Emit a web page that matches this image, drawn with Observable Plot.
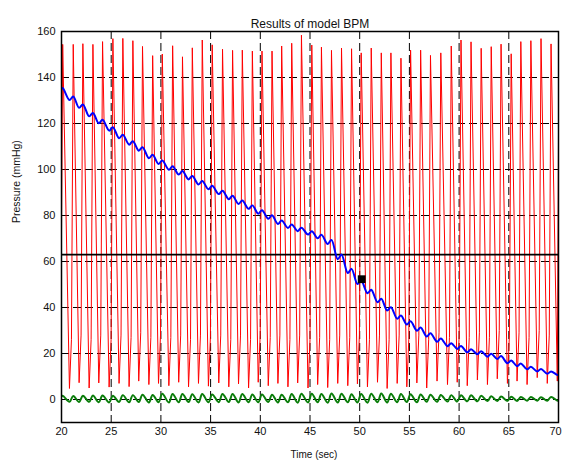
<!DOCTYPE html>
<html>
<head>
<meta charset="utf-8">
<script src="https://cdn.jsdelivr.net/npm/d3@7"></script>
<script src="https://cdn.jsdelivr.net/npm/@observablehq/plot@0.6"></script>
<style>
  body { margin: 0; background: #fff; }
  #chart svg { display: block; }
</style>
</head>
<body>
<div id="chart"></div>
<script>
// Axis ticks
const xTicks = [20, 25, 30, 35, 40, 45, 50, 55, 60, 65, 70];
const yTicks = [0, 20, 40, 60, 80, 100, 120, 140, 160];

// Systolic peaks of the arterial pressure (sec, mmHg)
const beatTimes = [20.12, 21.18, 22.15, 23.16, 24.13, 25.17, 26.17, 27.18, 28.15, 29.17,
  30.14, 31.18, 32.17, 33.16, 34.16, 35.16, 36.20, 37.21, 38.19, 39.20,
  40.17, 41.18, 42.15, 43.16, 44.14, 45.18, 46.15, 47.16, 48.17, 49.18,
  50.15, 51.16, 52.17, 53.14, 54.15, 55.12, 56.13, 57.12, 58.16, 59.21,
  60.19, 61.20, 62.22, 63.23, 64.22, 65.24, 66.21, 67.22, 68.24, 69.25];
const systolic = [154.4, 154.4, 154.7, 154.4, 155.6, 156.9, 157.0, 156.0, 153.5, 149.5,
  150.2, 153.8, 149.0, 152.9, 156.3, 154.2, 152.3, 151.8, 151.9, 151.5,
  151.5, 151.5, 153.7, 154.9, 158.4, 154.1, 153.2, 151.8, 152.8, 152.5,
  150.7, 152.8, 150.7, 150.7, 148.4, 151.9, 151.9, 149.6, 150.7, 153.7,
  156.3, 155.5, 152.7, 153.4, 154.5, 150.3, 155.6, 156.0, 156.9, 154.6];

// Diastolic minima before each following beat, and the knee of the upstroke
const troughTimes = [20.80, 21.77, 22.78, 23.75, 24.79, 25.79, 26.80, 27.77, 28.79,
  29.76, 30.80, 31.79, 32.78, 33.78, 34.78, 35.82, 36.83, 37.81, 38.82,
  39.79, 40.80, 41.77, 42.78, 43.76, 44.80, 45.77, 46.78, 47.79, 48.80,
  49.77, 50.78, 51.79, 52.76, 53.77, 54.74, 55.75, 56.74, 57.78, 58.83,
  59.81, 60.82, 61.84, 62.85, 63.84, 64.86, 65.83, 66.84, 67.86, 68.87];
const diastolic = [4.8, 7.3, 5.0, 7.2, 5.4, 7.0, 5.6, 8.0, 6.5,
  7.0, 6.0, 7.5, 5.5, 7.0, 5.8, 7.2, 5.5, 6.8, 5.0,
  7.5, 6.0, 7.0, 5.5, 7.2, 5.0, 6.5, 5.2, 7.0, 6.0,
  6.8, 5.5, 7.5, 4.8, 7.0, 5.5, 7.2, 5.0, 8.0, 6.5,
  7.5, 6.0, 8.5, 6.5, 9.0, 7.0, 8.0, 6.5, 9.5, 7.0];
const kneeTimes = [21.00, 21.97, 22.98, 23.95, 24.99, 25.99, 27.00, 27.97, 28.99,
  29.96, 31.00, 31.99, 32.98, 33.98, 34.98, 36.02, 37.03, 38.01, 39.02,
  39.99, 41.00, 41.97, 42.98, 43.96, 45.00, 45.97, 46.98, 47.99, 49.00,
  49.97, 50.98, 51.99, 52.96, 53.97, 54.94, 55.95, 56.94, 57.98, 59.03,
  60.01, 61.02, 62.04, 63.05, 64.04, 65.06, 66.03, 67.04, 68.06, 69.07];
const kneeLevels = [26, 28, 26, 28, 26, 28, 27, 29, 27,
  28, 27, 28, 26, 28, 27, 28, 26, 28, 26,
  28, 27, 28, 26, 28, 26, 27, 26, 28, 27,
  28, 26, 28, 26, 28, 26, 28, 26, 29, 27,
  28, 27, 29, 27, 30, 28, 29, 27, 30, 28];
// First and last samples of the pressure trace [sec, mmHg]
const pressureHead = [[20.0, 72]];
const pressureTail = [[69.88, 8.0], [70.0, 115]];

// Mean pressure: local maxima at each beat, minima at each diastole
const meanHigh = [135.4, 131.7, 128.3, 124.6, 121.6, 118.4, 115.1, 112.3, 109.7, 106.4,
  103.9, 101.4, 99.3, 97.2, 95.0, 92.9, 90.8, 88.6, 86.5, 84.4,
  82.3, 80.1, 77.8, 76.1, 74.7, 73.2, 71.6, 69.4, 63.0, 56.8,
  51.7, 47.7, 43.8, 40.1, 36.5, 34.0, 31.3, 28.8, 26.5, 24.5,
  23.3, 21.8, 21.0, 19.9, 18.9, 17.0, 15.7, 14.2, 13.3, 12.2];
const meanLow = [130.2, 126.8, 123.1, 120.1, 116.9, 113.6, 110.8, 108.2, 104.9,
  102.4, 99.9, 97.8, 95.7, 93.5, 91.4, 89.3, 87.1, 85.0, 82.9,
  80.8, 78.6, 76.3, 74.6, 73.2, 71.7, 70.1, 67.6, 61.0, 55.0,
  50.2, 46.2, 42.3, 38.7, 35.1, 32.6, 29.9, 27.4, 25.1, 23.2,
  22.0, 20.5, 19.7, 18.6, 17.6, 15.8, 14.5, 13.1, 12.2, 11.2];
const meanHead = [[20.0, 135.0]];
const meanTail = [[69.88, 10.7], [70.0, 10.9]];

// Residual trace oscillating around zero
const residualHigh = [1.6, 1.5, 1.6, 1.7, 1.7, 1.6, 1.9, 1.9, 2.1, 2.0,
  2.5, 2.4, 2.4, 2.3, 2.4, 2.2, 2.4, 2.4, 2.4, 2.2,
  2.2, 2.1, 2.1, 2.4, 2.5, 2.5, 2.4, 2.6, 2.5, 2.3,
  2.4, 2.5, 2.6, 2.5, 2.4, 2.3, 2.2, 2.1, 2.0, 1.9,
  1.8, 1.8, 1.6, 1.4, 1.3, 1.2, 1.1, 1.1, 1.0, 1.1];
const residualLow = [-1.0, -1.1, -1.0, -1.2, -1.3, -1.1, -1.2, -1.1, -1.3,
  -1.2, -1.3, -1.2, -1.1, -1.3, -1.2, -1.2, -1.1, -1.3, -1.2,
  -1.2, -1.1, -1.3, -1.2, -1.4, -1.3, -1.2, -1.4, -1.3, -1.2,
  -1.3, -1.4, -1.2, -1.3, -1.2, -1.1, -1.2, -1.0, -1.0, -0.9,
  -0.9, -0.8, -0.8, -0.7, -0.7, -0.6, -0.6, -0.5, -0.5, -0.5];
const residualHead = [[20.0, 1.2]];
const residualTail = [[69.88, -0.5], [70.0, -0.3]];

// Reference level and marked operating point
const thresholdLevel = 63;
const markedPoint = [{t: 50.2, p: 52.3}];

const toPts = (arr) => arr.map(([t, p]) => ({t, p}));

// Pressure trace: trough -> knee -> systolic peak for each beat
const pressure = toPts(pressureHead);
pressure.push({t: beatTimes[0], p: systolic[0]});
for (let k = 1; k < beatTimes.length; k++) {
  pressure.push({t: troughTimes[k - 1], p: diastolic[k - 1]});
  pressure.push({t: kneeTimes[k - 1], p: kneeLevels[k - 1]});
  pressure.push({t: beatTimes[k], p: systolic[k]});
}
pressure.push(...toPts(pressureTail));

// Alternating high/low series helper
function wave(head, highs, lows, tail) {
  const out = toPts(head);
  out.push({t: beatTimes[0], p: highs[0]});
  for (let k = 1; k < beatTimes.length; k++) {
    out.push({t: troughTimes[k - 1], p: lows[k - 1]});
    out.push({t: beatTimes[k], p: highs[k]});
  }
  out.push(...toPts(tail));
  return out;
}
const meanPressure = wave(meanHead, meanHigh, meanLow, meanTail);
const residual = wave(residualHead, residualHigh, residualLow, residualTail);

const font = '"Liberation Sans", Arial, Helvetica, sans-serif';
const lastTick = xTicks[xTicks.length - 1];

const chart = Plot.plot({
  width: 562,
  height: 460,
  marginTop: 31,
  marginBottom: 38,
  marginLeft: 61,
  marginRight: 4,
  style: {fontFamily: font, fontSize: "11px", color: "#111", background: "#fff"},
  x: {domain: [20, 70]},
  y: {domain: [-10, 160]},
  marks: [
    Plot.gridX(xTicks, {stroke: "#000", strokeOpacity: 1, strokeWidth: 1, strokeDasharray: "8,4"}),
    Plot.gridY(yTicks, {stroke: "#000", strokeOpacity: 1, strokeWidth: 1, strokeDasharray: "8,4"}),
    Plot.axisX(xTicks.filter((d) => d !== lastTick), {tickSize: 0, tickPadding: 5, label: null, fontSize: 11}),
    Plot.axisX([lastTick], {tickSize: 0, tickPadding: 5, label: null, fontSize: 11, dx: -3}),
    Plot.axisY(yTicks, {tickSize: 0, tickPadding: 6, label: null, fontSize: 11}),
    Plot.line(pressure, {x: "t", y: "p", stroke: "#ff0000", strokeWidth: 1, clip: true}),
    Plot.ruleY([thresholdLevel], {stroke: "#000", strokeWidth: 1.6}),
    Plot.line(meanPressure, {x: "t", y: "p", stroke: "#0000ff", strokeWidth: 2, curve: "catmull-rom", clip: true}),
    Plot.line(residual, {x: "t", y: "p", stroke: "#0a7d0a", strokeWidth: 2, curve: "catmull-rom", clip: true}),
    Plot.dot(markedPoint, {x: "t", y: "p", symbol: "square", r: 4.4, fill: "#000", stroke: "none"}),
    Plot.frame({stroke: "#000", strokeWidth: 1.5}),
    Plot.text(["Results of model BPM"], {frameAnchor: "top", dy: -12, fontSize: 12, fill: "#111"}),
    Plot.text(["Time (sec)"], {frameAnchor: "bottom", dy: 35, dx: 4, fontSize: 10, fill: "#111"}),
    Plot.text(["Pressure (mmHg)"], {frameAnchor: "left", rotate: -90, dx: -45, dy: -4, fontSize: 10.5, fill: "#111"})
  ]
});

document.getElementById("chart").append(chart);
</script>
</body>
</html>
